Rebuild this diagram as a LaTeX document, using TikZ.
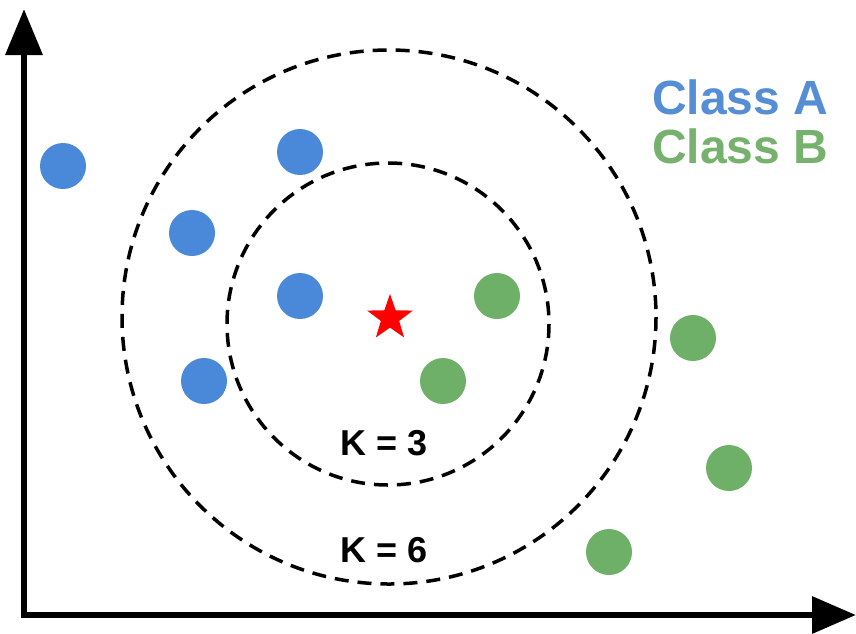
\documentclass[tikz,border=0pt]{standalone}
\usepackage{fontspec}
\setmainfont{Liberation Sans}
\usetikzlibrary{arrows.meta,shapes.geometric}
\definecolor{ptblue}{RGB}{74,136,218}
\definecolor{ptgreen}{RGB}{110,176,104}
\definecolor{txtblue}{RGB}{86,142,214}
\definecolor{txtgreen}{RGB}{118,178,110}
\tikzset{
  dotA/.style={circle,fill=ptblue,minimum size=46pt,inner sep=0pt},
  dotB/.style={circle,fill=ptgreen,minimum size=46pt,inner sep=0pt},
  ring/.style={draw=black,line width=3.5pt,dash pattern=on 14pt off 9pt},
  axisline/.style={line width=6.5pt,{Triangle[length=46pt,width=36pt]}-{Triangle[length=44pt,width=36pt]}},
  klabel/.style={font=\bfseries\fontsize{36}{40}\selectfont},
  classlabel/.style={font=\bfseries\fontsize{48}{52}\selectfont,anchor=west,inner sep=0pt}
}
\begin{document}
\begin{tikzpicture}[x=1pt,y=-1pt]
\useasboundingbox (0,0) rectangle (856,633);
% axes
\coordinate (ytip) at (24,9);
\coordinate (xtip) at (856,615);
\draw[axisline] (ytip) |- (xtip);
% circles
\coordinate (oc) at (389,317);
\coordinate (ic) at (388,324);
\draw[ring] (oc) circle (267);
\draw[ring] (ic) circle (161);
% class A
\node[dotA] (a1) at (63,166) {};
\node[dotA] (a2) at (300,152) {};
\node[dotA] (a3) at (192,233) {};
\node[dotA] (a4) at (300,296) {};
\node[dotA] (a5) at (204,381) {};
% class B
\node[dotB] (b1) at (497,296) {};
\node[dotB] (b2) at (693,338) {};
\node[dotB] (b3) at (443,381) {};
\node[dotB] (b4) at (729,468) {};
\node[dotB] (b5) at (609,552) {};
% query star
\node[star,star points=5,star point ratio=2.5,fill=red,minimum size=48pt,inner sep=0pt] (q) at (390,318) {};
% labels
\node[klabel] (k3) at (384,443) {K = 3};
\node[klabel] (k6) at (384,550) {K = 6};
\node[classlabel,text=txtblue] (ca) at (652,97) {Class A};
\node[classlabel,text=txtgreen] (cb) at (652,146) {Class B};
\end{tikzpicture}
\end{document}
